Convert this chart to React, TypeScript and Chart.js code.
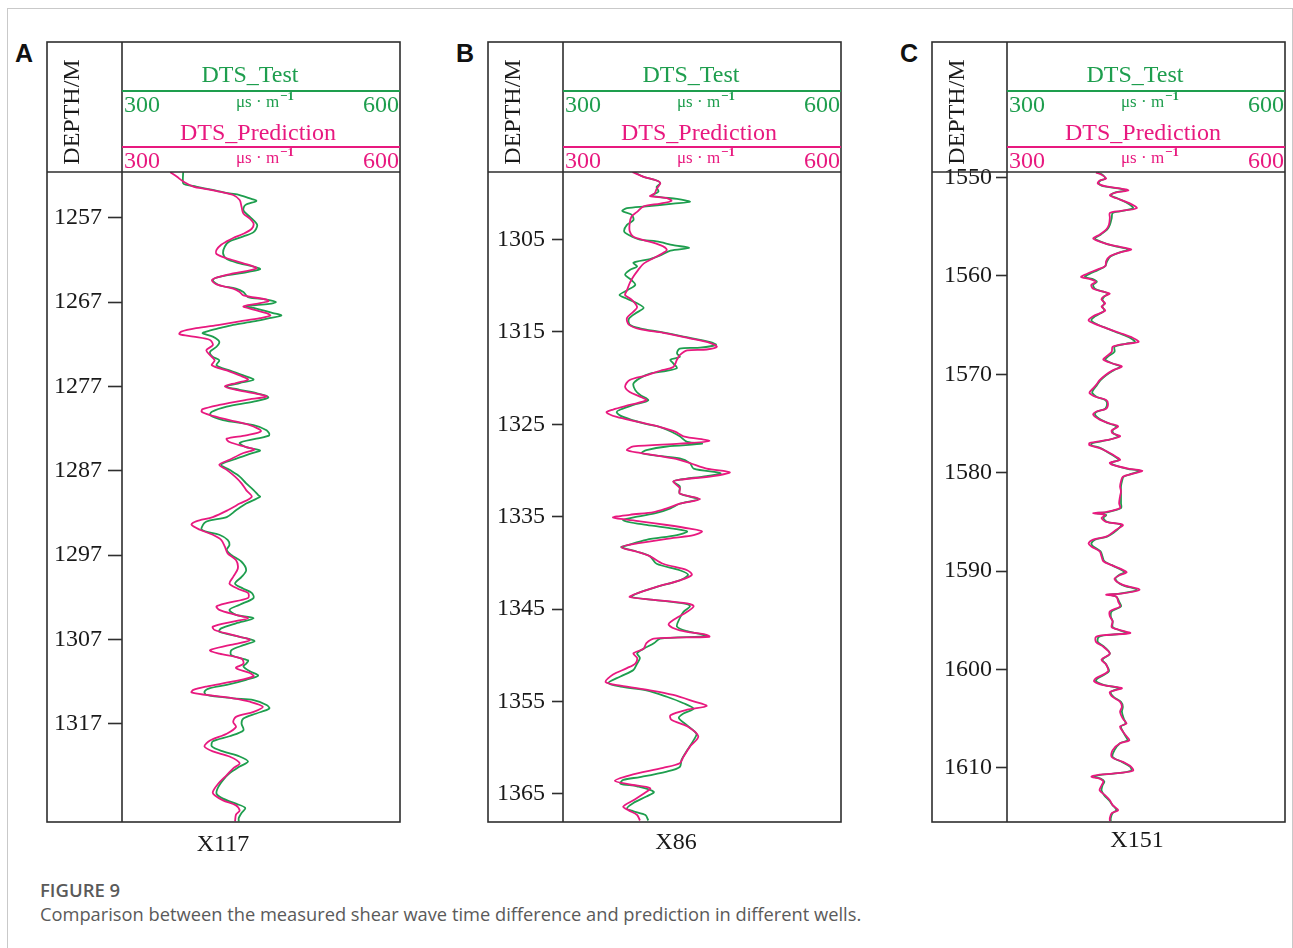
import React, { useEffect, useRef } from 'react';
import { Chart, registerables } from 'chart.js';

Chart.register(...registerables);

// ---------- Well X117 (panel A) ----------
const depthA_test = [
  1251.6, 1252.9, 1253.1, 1253.3, 1253.7, 1254.1, 1254.3, 1254.7, 1255.0, 1255.5,
  1256.1, 1256.7, 1257.3, 1257.9, 1258.7, 1259.2, 1259.8, 1260.4, 1261.2, 1261.9,
  1262.4, 1262.8, 1263.1, 1263.6, 1264.0, 1264.4, 1265.0, 1265.4, 1265.8, 1266.4,
  1266.7, 1267.0, 1267.2, 1267.5, 1267.7, 1268.3, 1268.6, 1268.9, 1269.3, 1269.7,
  1270.1, 1270.5, 1270.7, 1271.1, 1271.7, 1272.3, 1272.9, 1273.5, 1273.9, 1274.5,
  1275.1, 1275.7, 1276.2, 1276.6, 1277.0, 1277.4, 1277.8, 1278.3, 1278.8, 1279.4,
  1280.0, 1280.4, 1281.0, 1281.6, 1282.2, 1282.8, 1283.2, 1283.7, 1284.2, 1284.6,
  1285.0, 1285.7, 1286.3, 1286.9, 1287.7, 1288.5, 1289.3, 1289.9,
  1290.1, 1290.9, 1291.7, 1292.5, 1292.9, 1293.2, 1294.0, 1294.6, 1295.2, 1295.8,
  1296.4, 1297.0, 1297.8, 1298.8, 1299.6, 1300.4, 1301.0, 1301.5, 1302.1, 1302.9,
  1303.5, 1304.1, 1304.5, 1305.1, 1305.7, 1306.1, 1306.7, 1307.2, 1307.7, 1308.3,
  1308.9, 1309.5, 1309.9, 1310.2, 1310.8, 1311.3, 1311.8, 1312.4, 1312.8, 1313.2,
  1313.6, 1314.0, 1314.2, 1314.8, 1315.2, 1315.8, 1316.4, 1317.0, 1317.8, 1318.5,
  1319.1, 1319.7, 1320.3, 1320.9, 1321.5, 1322.1, 1322.9, 1323.7, 1324.5, 1325.3,
  1325.9, 1326.5, 1327.0, 1327.6, 1328.2, 1328.6,
];
const dtsA_test = [
  366, 366, 370, 380, 398, 416, 427, 438, 445, 433,
  431, 436, 442, 446, 442, 431, 416, 411, 409, 413,
  427, 442, 449, 427, 405, 398, 405, 423, 431, 436,
  456, 466, 459, 434, 442, 463, 472, 459, 442, 420,
  405, 391, 387, 398, 405, 402, 395, 398, 405, 402,
  416, 431, 442, 427, 413, 427, 445, 458, 442, 413,
  397, 395, 409, 442, 456, 459, 445, 427, 434, 449,
  438, 420, 407, 416, 427, 434, 442, 447,
  449, 434, 423, 413, 395, 389, 386, 405, 414, 416,
  413, 418, 429, 434, 429, 422, 431, 440, 442, 427,
  416, 423, 442, 423, 407, 405, 427, 443, 431, 418,
  418, 436, 434, 431, 438, 447, 434, 413, 395, 389,
  391, 420, 442, 456, 459, 445, 431, 429, 431, 416,
  398, 397, 409, 427, 436, 427, 416, 409, 404, 402,
  409, 423, 433, 429, 426, 426,
];
const depthA_pred = [
  1251.6, 1252.1, 1252.7, 1253.3, 1253.6, 1253.9, 1254.3, 1254.9, 1255.7, 1256.5,
  1257.1, 1257.7, 1258.3, 1258.9, 1259.4, 1259.8, 1260.2, 1260.8, 1261.3, 1261.8,
  1262.4, 1263.0, 1263.6, 1264.0, 1264.4, 1264.9, 1265.4, 1265.8, 1266.2, 1266.7,
  1266.9, 1267.2, 1267.5, 1267.9, 1268.3, 1268.6, 1268.9, 1269.3, 1269.7, 1270.1,
  1270.5, 1270.8, 1271.1, 1271.5, 1272.1, 1272.7, 1273.3, 1273.9, 1274.5, 1275.1,
  1275.7, 1276.2, 1276.6, 1277.0, 1277.4, 1277.8, 1278.2, 1278.6, 1279.2, 1279.7,
  1280.0, 1280.4, 1281.0, 1281.6, 1282.3, 1282.8, 1283.2, 1283.6, 1284.2, 1284.5,
  1284.9, 1285.7, 1286.3, 1286.9, 1287.7, 1288.5, 1289.3,
  1290.1, 1290.9, 1291.7, 1292.5, 1293.0, 1293.4, 1294.0, 1294.6, 1295.2, 1296.0,
  1296.8, 1297.6, 1298.6, 1299.6, 1300.4, 1301.0, 1301.5, 1302.1, 1302.7, 1303.1,
  1303.5, 1304.1, 1304.5, 1304.9, 1305.5, 1305.9, 1306.5, 1307.1, 1307.7, 1308.3,
  1308.7, 1309.3, 1309.9, 1310.4, 1311.0, 1311.4, 1312.0, 1312.6, 1313.0, 1313.3,
  1313.6, 1314.0, 1314.4, 1315.0, 1315.6, 1316.2, 1316.8, 1317.4, 1318.2, 1319.0,
  1319.7, 1320.3, 1320.9, 1321.7, 1322.3, 1323.1, 1324.1, 1325.1, 1325.5, 1326.1,
  1326.7, 1327.3, 1327.8, 1328.6,
];
const dtsA_pred = [
  352, 359, 366, 377, 391, 405, 420, 427, 429, 431,
  438, 442, 440, 431, 420, 413, 407, 402, 402, 413,
  431, 445, 420, 405, 397, 402, 420, 427, 431, 456,
  458, 445, 431, 442, 456, 460, 449, 427, 405, 380,
  364, 362, 377, 395, 398, 391, 395, 400, 397, 413,
  427, 436, 423, 411, 423, 442, 456, 434, 405, 387,
  386, 395, 416, 438, 450, 434, 413, 416, 434, 443,
  431, 416, 405, 413, 422, 429, 434,
  440, 427, 414, 398, 380, 375, 384, 398, 407, 411,
  414, 423, 425, 420, 416, 425, 436, 436, 413, 402,
  405, 423, 436, 420, 398, 400, 420, 438, 416, 395,
  405, 429, 431, 423, 438, 442, 420, 391, 377, 375,
  391, 420, 438, 452, 442, 423, 420, 423, 413, 395,
  389, 398, 416, 427, 420, 413, 404, 398, 400, 409,
  423, 427, 423, 422,
];
const depthTicksA = [1257, 1267, 1277, 1287, 1297, 1307, 1317];
const depthRangeA = [1251.57, 1328.67];

// ---------- Well X86 (panel B) ----------
const depthB_test = [
  1297.7, 1298.2, 1298.6, 1298.9, 1299.3, 1299.8, 1300.2, 1300.4, 1300.6, 1300.9,
  1301.1, 1301.4, 1301.6, 1301.9, 1302.3, 1302.9, 1303.4, 1304.1, 1304.5, 1305.0,
  1305.2, 1305.6, 1305.9, 1306.2, 1306.7, 1307.1, 1307.5, 1307.9, 1308.3, 1308.8,
  1309.4, 1309.9, 1310.5, 1311.0, 1311.4, 1311.9, 1312.4, 1313.0, 1313.6, 1314.2,
  1314.6, 1315.0, 1315.5, 1316.1, 1316.4, 1316.7, 1316.8, 1317.3, 1317.7, 1318.0,
  1318.4, 1318.9, 1319.2, 1319.5, 1320.0, 1320.6, 1321.3, 1321.8, 1322.4, 1322.9,
  1323.4, 1323.7, 1324.2, 1324.9, 1325.3, 1325.8, 1326.3, 1326.9, 1327.1, 1327.4,
  1327.8, 1328.1, 1328.3, 1328.7, 1329.2, 1329.8, 1330.3, 1330.6, 1331.0, 1331.2,
  1331.7, 1332.5,
  1333.1, 1333.6, 1334.1, 1334.6, 1335.0, 1335.4, 1335.9, 1336.3, 1336.6, 1337.0,
  1337.5, 1338.1, 1338.3, 1338.8, 1339.3, 1340.1, 1340.8, 1341.3, 1341.9, 1342.6,
  1343.3, 1343.7, 1344.0, 1344.4, 1344.7, 1345.3, 1346.0, 1346.9, 1347.4, 1347.9,
  1348.2, 1348.7, 1349.3, 1349.8, 1350.3, 1350.9, 1351.6, 1352.3, 1353.0, 1353.4,
  1353.8, 1354.5, 1355.2, 1355.8, 1356.3, 1356.8, 1357.6, 1358.5, 1359.2, 1360.3,
  1361.3, 1362.1, 1362.6, 1363.2, 1363.5, 1363.9, 1364.2, 1364.8, 1365.3, 1366.0,
  1366.6, 1366.9, 1367.3, 1367.9,
];
const dtsB_test = [
  377, 387, 401, 405, 401, 403, 396, 405, 423, 437,
  419, 390, 369, 364, 374, 376, 369, 366, 371, 383,
  401, 419, 436, 416, 405, 394, 376, 380, 372, 367,
  374, 378, 369, 361, 369, 380, 387, 378, 371, 372,
  383, 405, 430, 459, 465, 448, 426, 423, 426, 416,
  419, 423, 412, 394, 383, 376, 378, 383, 392, 376,
  362, 358, 365, 387, 405, 417, 426, 434, 450, 412,
  390, 385, 394, 426, 437, 441, 470, 455, 426, 419,
  426, 426,
  446, 426, 416, 401, 380, 365, 390, 419, 434, 423,
  390, 369, 363, 380, 394, 401, 426, 435, 426, 401,
  380, 374, 398, 430, 437, 430, 426, 423, 434, 455,
  405, 398, 387, 380, 383, 380, 376, 362, 349, 362,
  390, 412, 430, 441, 430, 425, 434, 444, 441, 434,
  428, 426, 412, 383, 365, 362, 380, 398, 390, 376,
  369, 376, 389, 392,
];
const depthB_pred = [
  1297.7, 1298.2, 1298.6, 1298.9, 1299.5, 1300.0, 1300.3, 1300.5, 1300.8, 1301.1,
  1301.4, 1302.0, 1302.5, 1303.2, 1304.1, 1304.7, 1305.0, 1305.6, 1306.1, 1306.5,
  1307.0, 1307.6, 1308.3, 1309.0, 1309.7, 1310.5, 1311.0, 1311.5, 1312.3, 1312.8,
  1313.5, 1314.2, 1314.7, 1315.1, 1315.7, 1316.2, 1316.6, 1316.9, 1317.0, 1317.5,
  1318.0, 1318.8, 1319.2, 1319.7, 1320.2, 1320.9, 1321.5, 1322.0, 1322.4, 1322.9,
  1323.4, 1323.7, 1324.2, 1324.7, 1325.3, 1325.8, 1326.3, 1326.8, 1327.1, 1327.4,
  1327.8, 1328.1, 1328.7, 1329.2, 1329.8, 1330.2, 1330.6, 1331.0, 1331.2, 1331.9,
  1332.5,
  1333.1, 1333.6, 1334.1, 1334.5, 1334.8, 1335.1, 1335.5, 1335.9, 1336.3, 1336.6,
  1337.0, 1337.3, 1337.9, 1338.3, 1338.8, 1339.3, 1340.1, 1340.8, 1341.3, 1341.9,
  1342.6, 1343.3, 1343.7, 1344.0, 1344.4, 1344.7, 1345.3, 1346.2, 1346.7, 1347.3,
  1347.8, 1348.0, 1348.2, 1348.7, 1349.3, 1349.8, 1350.3, 1350.9, 1351.4, 1352.1,
  1352.9, 1353.3, 1353.8, 1354.3, 1355.0, 1355.5, 1355.9, 1356.5, 1357.0, 1357.7,
  1358.8, 1359.9, 1361.0, 1361.7, 1362.2, 1363.0, 1363.6, 1364.0, 1364.4, 1365.0,
  1365.7, 1366.4, 1366.8, 1367.3, 1367.9,
];
const dtsB_pred = [
  375, 387, 401, 405, 401, 399, 394, 412, 417, 405,
  387, 380, 374, 372, 372, 376, 385, 405, 412, 407,
  398, 387, 381, 376, 372, 369, 367, 374, 380, 376,
  369, 371, 383, 408, 437, 459, 466, 455, 434, 426,
  423, 419, 405, 390, 372, 367, 372, 383, 390, 372,
  354, 347, 358, 380, 405, 421, 430, 458, 426, 376,
  369, 383, 419, 437, 455, 480, 462, 426, 419, 426,
  426,
  448, 426, 412, 398, 372, 354, 383, 412, 437, 450,
  441, 419, 380, 363, 380, 394, 408, 434, 439, 426,
  401, 380, 372, 398, 434, 441, 434, 419, 414, 426,
  455, 458, 398, 390, 387, 376, 380, 378, 369, 354,
  346, 362, 394, 419, 441, 455, 434, 416, 417, 434,
  446, 437, 430, 426, 408, 372, 356, 372, 394, 387,
  376, 365, 371, 380, 383,
];
const depthTicksB = [1305, 1315, 1325, 1335, 1345, 1355, 1365];
const depthRangeB = [1297.68, 1368.06];

// ---------- Well X151 (panel C) ----------
const depthC = [
  1549.5, 1549.7, 1550.1, 1550.3, 1550.6, 1550.9, 1551.1, 1551.3, 1551.5, 1551.8,
  1552.1, 1552.6, 1553.1, 1553.4, 1553.6, 1554.1, 1554.8, 1555.3, 1555.8, 1556.2,
  1556.5, 1556.9, 1557.3, 1557.6, 1558.0, 1558.5, 1559.0, 1559.4, 1559.8, 1560.1,
  1560.3, 1560.6, 1560.9, 1561.3, 1561.6, 1561.8, 1562.1, 1562.4, 1562.8, 1563.1,
  1563.5, 1563.8, 1564.1, 1564.5, 1564.8, 1565.3, 1565.8, 1566.3, 1566.7, 1566.9,
  1567.2, 1567.7, 1568.2, 1568.5, 1568.9, 1569.2, 1569.6, 1570.1, 1570.6, 1571.1,
  1571.6, 1571.9, 1572.3, 1572.6, 1573.0, 1573.5, 1573.8, 1574.1, 1574.6, 1575.0,
  1575.3, 1575.7, 1576.0, 1576.3, 1576.7, 1577.0, 1577.2, 1577.5, 1578.0, 1578.4,
  1578.7, 1579.0, 1579.2, 1579.6, 1579.8, 1580.1, 1580.4, 1580.9, 1581.4, 1581.9,
  1582.4,
  1583.1, 1583.6, 1584.0, 1584.1, 1584.3, 1584.6, 1585.0, 1585.3, 1585.8, 1586.5,
  1586.8, 1587.2, 1587.5, 1588.0, 1588.5, 1589.0, 1589.4, 1590.1, 1590.4, 1590.8,
  1591.4, 1591.9, 1592.3, 1592.4, 1592.6, 1593.1, 1593.6, 1594.1, 1594.6, 1595.1,
  1595.7, 1596.0, 1596.3, 1596.5, 1596.7, 1597.2, 1597.7, 1598.4, 1599.0, 1599.5,
  1600.2, 1600.9, 1601.2, 1601.6, 1601.9, 1602.3, 1602.8, 1603.3, 1603.8, 1604.3,
  1605.0, 1605.5, 1605.8, 1606.3, 1606.8, 1607.2, 1607.5, 1608.2, 1608.9, 1609.4,
  1609.9, 1610.3, 1610.6, 1610.7, 1610.9, 1611.1, 1611.4, 1611.8, 1612.3, 1612.8,
  1613.3, 1613.8, 1614.3, 1614.6, 1615.1, 1615.4,
];
const dtsC_pred = [
  396, 402, 407, 400, 398, 407, 422, 431, 418, 411,
  418, 432, 440, 422, 411, 411, 410, 407, 400, 393,
  400, 414, 434, 422, 411, 407, 406, 396, 386, 380,
  389, 396, 391, 393, 404, 411, 404, 402, 406, 402,
  406, 400, 393, 388, 393, 407, 422, 436, 442, 429,
  414, 413, 407, 404, 414, 424, 414, 406, 400, 396,
  391, 389, 396, 407, 409, 407, 396, 393, 400, 411,
  420, 413, 414, 422, 407, 389, 389, 400, 411, 418,
  422, 411, 414, 432, 446, 436, 425, 423, 422, 423,
  422,
  421, 422, 407, 393, 406, 402, 407, 425, 418, 407,
  393, 388, 391, 400, 402, 404, 413, 429, 422, 416,
  425, 443, 422, 407, 418, 420, 422, 411, 411, 414,
  413, 422, 433, 407, 396, 396, 404, 411, 402, 407,
  409, 396, 394, 404, 424, 411, 414, 422, 424, 422,
  425, 429, 422, 425, 429, 432, 422, 414, 413, 425,
  434, 436, 414, 400, 391, 400, 404, 402, 400, 406,
  411, 414, 420, 413, 411, 411,
];
const dtsC_test = [
  398, 403, 406, 401, 399, 405, 420, 428, 417, 412,
  419, 430, 436, 423, 414, 413, 411, 408, 401, 395,
  401, 413, 431, 422, 412, 408, 406, 398, 389, 384,
  392, 397, 393, 395, 404, 409, 405, 403, 405, 403,
  405, 401, 395, 391, 395, 407, 420, 433, 438, 428,
  416, 416, 409, 406, 414, 422, 415, 407, 401, 397,
  393, 392, 397, 406, 408, 406, 397, 395, 401, 410,
  418, 414, 415, 420, 408, 392, 391, 401, 410, 417,
  421, 412, 415, 430, 443, 435, 426, 424, 423, 423,
  423,
  423, 423, 409, 396, 407, 404, 408, 423, 419, 408,
  395, 391, 393, 401, 403, 405, 413, 427, 421, 417,
  424, 440, 422, 410, 418, 421, 423, 413, 412, 414,
  414, 421, 430, 409, 399, 398, 405, 411, 403, 407,
  410, 398, 396, 405, 421, 412, 415, 423, 425, 424,
  426, 428, 423, 425, 428, 430, 422, 416, 414, 424,
  433, 434, 415, 403, 394, 401, 405, 403, 402, 405,
  410, 414, 418, 414, 412, 412,
];
const depthTicksC = [1550, 1560, 1570, 1580, 1590, 1600, 1610];
const depthRangeC = [1549.43, 1615.51];

const dtsRange = [300, 600];
const dtsTickLabels = ['300', '600'];
const seriesNames = ['DTS_Test', 'DTS_Prediction'];
const unitText = 'μs · m';
const unitSup = '−1';

const GREEN = '#1e9e4e';
const PINK = '#e8197f';
const SERIF = '"Liberation Serif", "Times New Roman", Times, serif';

type PanelCfg = {
  letter: string;
  well: string;
  boxLeft: number;
  wellX: number;
  wellY: number;
  depthTest: number[];
  valTest: number[];
  depthPred: number[];
  valPred: number[];
  ticks: number[];
  range: number[];
  tickLength: number;
  tickPadding: number;
};

const panels: PanelCfg[] = [
  {
    letter: 'A', well: 'X117', boxLeft: 47, wellX: 223, wellY: 843,
    depthTest: depthA_test, valTest: dtsA_test, depthPred: depthA_pred, valPred: dtsA_pred,
    ticks: depthTicksA, range: depthRangeA, tickLength: 14, tickPadding: 6,
  },
  {
    letter: 'B', well: 'X86', boxLeft: 488, wellX: 676, wellY: 841,
    depthTest: depthB_test, valTest: dtsB_test, depthPred: depthB_pred, valPred: dtsB_pred,
    ticks: depthTicksB, range: depthRangeB, tickLength: 11, tickPadding: 7,
  },
  {
    letter: 'C', well: 'X151', boxLeft: 932, wellX: 1137, wellY: 839,
    depthTest: depthC, valTest: dtsC_test, depthPred: depthC, valPred: dtsC_pred,
    ticks: depthTicksC, range: depthRangeC, tickLength: 11, tickPadding: 4,
  },
];

const CANVAS_W = 365;
const CANVAS_H = 810;
const CANVAS_TOP = 30;
const CANVAS_OFFSET = 5; // canvas starts this far left of the box
const DEPTH_COL = 75;
const HEADER_H = 130;
const PLOT_TOP = 172;
const PLOT_BOTTOM = 822;

function drawUnit(ctx: CanvasRenderingContext2D, cx: number, cy: number, color: string) {
  ctx.save();
  ctx.fillStyle = color;
  ctx.textBaseline = 'alphabetic';
  ctx.font = `17px ${SERIF}`;
  const w1 = ctx.measureText(unitText).width;
  ctx.font = `bold 13px ${SERIF}`;
  const w2 = ctx.measureText(unitSup).width;
  const x0 = cx - (w1 + w2 + 1) / 2;
  ctx.font = `17px ${SERIF}`;
  ctx.textAlign = 'left';
  ctx.fillText(unitText, x0, cy + 6);
  ctx.font = `bold 13px ${SERIF}`;
  ctx.fillText(unitSup, x0 + w1 + 1, cy - 1);
  ctx.restore();
}

function Panel({ cfg }: { cfg: PanelCfg }) {
  const ref = useRef<HTMLCanvasElement>(null);
  useEffect(() => {
    const canvas = ref.current;
    if (!canvas) return;

    const headerPlugin = {
      id: 'wellHeader',
      afterDraw(chart: any) {
        const { ctx, chartArea: a } = chart;
        const bl = a.left - DEPTH_COL;
        const bt = a.top - HEADER_H;
        ctx.save();
        ctx.strokeStyle = '#2e2e2e';
        ctx.lineWidth = 1.6;
        ctx.strokeRect(bl, bt, a.right - bl, a.bottom - bt);
        ctx.beginPath();
        ctx.moveTo(bl, a.top);
        ctx.lineTo(a.right, a.top);
        ctx.moveTo(a.left, bt);
        ctx.lineTo(a.left, a.bottom);
        ctx.stroke();

        // coloured scale lines
        ctx.lineWidth = 2;
        ctx.strokeStyle = GREEN;
        ctx.beginPath();
        ctx.moveTo(a.left, bt + 49);
        ctx.lineTo(a.right, bt + 49);
        ctx.stroke();
        ctx.strokeStyle = PINK;
        ctx.beginPath();
        ctx.moveTo(a.left, bt + 105);
        ctx.lineTo(a.right, bt + 105);
        ctx.stroke();

        ctx.textBaseline = 'middle';
        ctx.font = `24px ${SERIF}`;
        // Test header
        ctx.fillStyle = GREEN;
        ctx.textAlign = 'center';
        ctx.fillText(seriesNames[0], a.left + 128, bt + 34);
        ctx.textAlign = 'left';
        ctx.fillText(dtsTickLabels[0], a.left + 2, bt + 64);
        ctx.textAlign = 'right';
        ctx.fillText(dtsTickLabels[1], a.right - 1, bt + 64);
        drawUnit(ctx, a.left + 143, bt + 59, GREEN);
        // Prediction header
        ctx.font = `24px ${SERIF}`;
        ctx.textBaseline = 'middle';
        ctx.fillStyle = PINK;
        ctx.textAlign = 'center';
        ctx.fillText(seriesNames[1], a.left + 136, bt + 92);
        ctx.textAlign = 'left';
        ctx.fillText(dtsTickLabels[0], a.left + 2, bt + 120);
        ctx.textAlign = 'right';
        ctx.fillText(dtsTickLabels[1], a.right - 1, bt + 120);
        drawUnit(ctx, a.left + 143, bt + 115, PINK);

        // DEPTH/M vertical label
        ctx.save();
        ctx.translate(bl + 26, bt + 70);
        ctx.rotate(-Math.PI / 2);
        ctx.fillStyle = '#1a1a1a';
        ctx.font = `24px ${SERIF}`;
        ctx.textAlign = 'center';
        ctx.textBaseline = 'middle';
        ctx.fillText('DEPTH/M', 0, 0);
        ctx.restore();
        ctx.restore();
      },
    };

    const chart = new Chart(canvas, {
      type: 'line',
      data: {
        datasets: [
          {
            label: seriesNames[1],
            data: cfg.depthPred.map((d, i) => ({ x: cfg.valPred[i], y: d })),
            borderColor: PINK,
            borderWidth: 1.8,
            pointRadius: 0,
            tension: 0.3,
            fill: false,
            order: 0,
          },
          {
            label: seriesNames[0],
            data: cfg.depthTest.map((d, i) => ({ x: cfg.valTest[i], y: d })),
            borderColor: GREEN,
            borderWidth: 1.8,
            pointRadius: 0,
            tension: 0.3,
            fill: false,
            order: 1,
          },
        ],
      },
      options: {
        animation: false,
        responsive: false,
        devicePixelRatio: 1,
        indexAxis: 'y',
        events: [],
        layout: {
          padding: {
            left: 0,
            top: PLOT_TOP - CANVAS_TOP,
            right: 7,
            bottom: CANVAS_TOP + CANVAS_H - PLOT_BOTTOM,
          },
        },
        plugins: { legend: { display: false }, tooltip: { enabled: false } },
        scales: {
          x: { type: 'linear', min: dtsRange[0], max: dtsRange[1], display: false },
          y: {
            type: 'linear',
            position: 'left',
            reverse: true,
            min: cfg.range[0],
            max: cfg.range[1],
            afterFit: (s: any) => {
              s.width = CANVAS_OFFSET + DEPTH_COL;
              s.paddingTop = 0;
              s.paddingBottom = 0;
            },
            afterBuildTicks: (s: any) => {
              s.ticks = cfg.ticks.map((v) => ({ value: v }));
            },
            grid: {
              drawOnChartArea: false,
              drawTicks: true,
              tickLength: cfg.tickLength,
              tickWidth: 1.6,
              tickColor: '#2e2e2e',
              color: '#2e2e2e',
            },
            border: { display: false },
            ticks: {
              autoSkip: false,
              padding: cfg.tickPadding,
              color: '#1a1a1a',
              font: { family: SERIF, size: 24 },
              callback: (v: any) => String(v),
            },
          },
        },
      } as any,
      plugins: [headerPlugin],
    });
    return () => chart.destroy();
  }, [cfg]);

  return (
    <>
      <canvas
        ref={ref}
        width={CANVAS_W}
        height={CANVAS_H}
        style={{
          position: 'absolute',
          left: cfg.boxLeft - CANVAS_OFFSET,
          top: CANVAS_TOP,
          width: CANVAS_W,
          height: CANVAS_H,
          display: 'block',
        }}
      />
      <div
        style={{
          position: 'absolute',
          left: cfg.boxLeft - 32,
          top: 41,
          font: 'bold 25px "Liberation Sans", Arial, sans-serif',
          lineHeight: '25px',
          color: '#111',
        }}
      >
        {cfg.letter}
      </div>
      <div
        style={{
          position: 'absolute',
          left: cfg.wellX,
          top: cfg.wellY,
          transform: 'translate(-50%, -50%)',
          font: `24px ${SERIF}`,
          lineHeight: '24px',
          color: '#1a1a1a',
          whiteSpace: 'nowrap',
        }}
      >
        {cfg.well}
      </div>
    </>
  );
}

export default function App() {
  return (
    <div
      style={{
        position: 'absolute',
        left: 0,
        top: 0,
        width: 1293,
        height: 948,
        background: '#ffffff',
        overflow: 'hidden',
      }}
    >
      <div
        style={{
          position: 'absolute',
          left: 7,
          top: 8,
          width: 1286,
          height: 980,
          border: '1px solid #c9c9c9',
          boxSizing: 'border-box',
        }}
      />
      {panels.map((p) => (
        <Panel key={p.letter} cfg={p} />
      ))}
      <div
        style={{
          position: 'absolute',
          left: 40,
          top: 878,
          font: '600 18.5px "Open Sans", sans-serif',
          lineHeight: '24px',
          color: '#5a5a5a',
          whiteSpace: 'nowrap',
        }}
      >
        FIGURE 9
      </div>
      <div
        style={{
          position: 'absolute',
          left: 40,
          top: 902,
          font: '18.3px "Open Sans", sans-serif',
          lineHeight: '24px',
          color: '#5a5a5a',
          whiteSpace: 'nowrap',
        }}
      >
        Comparison between the measured shear wave time difference and prediction in different wells.
      </div>
    </div>
  );
}
